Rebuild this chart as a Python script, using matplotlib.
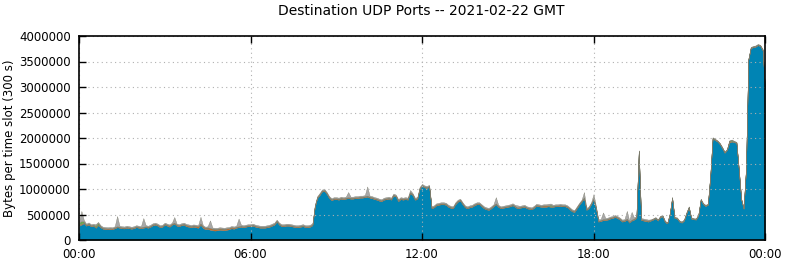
#!/usr/bin/env python3
"""Destination UDP ports, stacked bytes per 300 s slot over one day."""

import numpy as np
import matplotlib.pyplot as plt
from matplotlib.ticker import FuncFormatter

# kB per 5-minute slot, one row per hour (12 slots), plus the 24:00 closing value
blue_kb = [
    [290, 300, 330, 280, 300, 270, 280, 240, 290, 250, 220, 215],
    [210, 215, 210, 230, 250, 240, 230, 225, 240, 230, 220, 230],
    [250, 240, 230, 240, 250, 240, 260, 290, 300, 280, 250, 260],
    [300, 280, 260, 300, 320, 280, 270, 290, 300, 270, 260, 250],
    [260, 250, 240, 300, 240, 210, 220, 200, 190, 185, 190, 200],
    [195, 190, 200, 210, 230, 220, 240, 250, 260, 250, 260, 270],
    [270, 280, 260, 250, 240, 240, 240, 250, 260, 280, 300, 360],
    [300, 270, 270, 280, 280, 270, 260, 250, 250, 260, 270, 250],
    [250, 260, 290, 650, 820, 880, 950, 960, 900, 820, 780, 800],
    [800, 790, 810, 800, 810, 820, 810, 810, 820, 820, 830, 830],
    [840, 850, 830, 820, 800, 790, 770, 760, 790, 800, 810, 790],
    [870, 850, 760, 800, 790, 800, 790, 920, 880, 790, 800, 1000],
    [1060, 1030, 1020, 1040, 620, 640, 680, 690, 700, 700, 690, 650],
    [630, 620, 700, 750, 770, 700, 640, 620, 640, 650, 680, 700],
    [700, 660, 620, 600, 590, 620, 660, 700, 650, 620, 630, 640],
    [650, 660, 680, 650, 620, 630, 640, 650, 620, 610, 600, 630],
    [670, 660, 650, 650, 650, 660, 650, 650, 660, 660, 670, 660],
    [660, 640, 600, 560, 550, 620, 690, 750, 820, 590, 620, 700],
    [800, 620, 360, 370, 390, 390, 400, 420, 430, 450, 430, 400],
    [360, 370, 400, 340, 380, 400, 430, 1730, 390, 380, 370, 360],
    [380, 400, 425, 380, 450, 460, 350, 325, 500, 820, 430, 420],
    [360, 340, 380, 520, 635, 420, 405, 400, 480, 785, 700, 665],
    [690, 1240, 1990, 1960, 1930, 1880, 1800, 1710, 1760, 1910, 1930, 1920],
    [1900, 1370, 790, 610, 1370, 3530, 3760, 3780, 3790, 3820, 3800, 3720],
]
blue_end = 2950

orange_kb = [
    [15, 20, 15, 15, 20, 15, 15, 15, 15, 15, 15, 15],
    [15, 15, 15, 15, 15, 15, 15, 15, 15, 15, 15, 15],
    [15, 15, 15, 15, 15, 15, 15, 15, 15, 15, 15, 15],
    [15, 15, 20, 15, 15, 15, 15, 15, 15, 20, 20, 20],
    [20, 25, 25, 20, 25, 25, 25, 30, 30, 30, 25, 25],
    [25, 25, 25, 20, 20, 20, 15, 15, 15, 15, 15, 15],
    [15, 15, 15, 15, 15, 15, 15, 15, 15, 15, 15, 15],
    [15, 15, 15, 15, 15, 15, 15, 15, 15, 15, 15, 15],
    [15, 15, 15, 15, 15, 15, 15, 15, 15, 15, 15, 15],
    [15, 15, 15, 15, 15, 15, 15, 15, 15, 15, 15, 15],
    [15, 15, 15, 15, 15, 15, 15, 15, 15, 15, 15, 15],
    [15, 15, 15, 15, 15, 15, 15, 15, 15, 15, 15, 15],
    [15, 15, 15, 15, 15, 15, 15, 15, 15, 15, 15, 15],
    [15, 15, 15, 15, 15, 15, 15, 15, 15, 15, 15, 15],
    [15, 15, 15, 15, 15, 15, 15, 15, 15, 15, 15, 15],
    [15, 15, 15, 15, 15, 15, 15, 15, 15, 15, 15, 15],
    [15, 15, 15, 25, 25, 15, 15, 15, 15, 15, 15, 15],
    [15, 15, 15, 15, 15, 15, 15, 15, 15, 15, 15, 15],
    [15, 15, 15, 15, 15, 15, 15, 15, 15, 15, 15, 15],
    [15, 15, 15, 15, 15, 15, 15, 15, 15, 15, 15, 15],
    [10, 10, 10, 10, 10, 10, 10, 10, 10, 10, 10, 10],
    [10, 10, 10, 10, 10, 10, 10, 10, 10, 10, 10, 10],
    [10, 10, 10, 10, 10, 10, 10, 10, 10, 30, 10, 10],
    [10, 10, 10, 10, 10, 10, 10, 10, 10, 10, 10, 10],
]
orange_end = 10

green_kb = [
    [40, 50, 20, 5, 5, 5, 5, 35, 30, 5, 5, 5],
    [5, 5, 5, 5, 5, 5, 5, 5, 5, 5, 5, 5],
    [5, 5, 5, 5, 5, 5, 5, 5, 5, 5, 5, 5],
    [5, 5, 5, 5, 5, 5, 5, 5, 5, 5, 5, 5],
    [5, 5, 5, 5, 5, 5, 5, 5, 5, 5, 5, 5],
    [5, 5, 5, 5, 5, 5, 5, 5, 5, 5, 5, 5],
    [5, 5, 5, 5, 5, 5, 5, 5, 5, 5, 5, 5],
    [5, 5, 5, 5, 5, 5, 5, 5, 5, 5, 5, 5],
    [5, 5, 5, 5, 5, 5, 5, 5, 5, 5, 5, 5],
    [5, 5, 5, 5, 5, 5, 5, 5, 5, 5, 5, 5],
    [5, 5, 5, 5, 5, 5, 5, 5, 5, 5, 5, 5],
    [5, 5, 5, 5, 5, 5, 5, 5, 5, 5, 5, 5],
    [5, 5, 5, 5, 5, 5, 5, 5, 5, 5, 5, 5],
    [5, 5, 5, 5, 5, 5, 5, 5, 5, 5, 5, 5],
    [5, 5, 5, 5, 5, 5, 5, 5, 5, 5, 5, 5],
    [5, 5, 5, 5, 5, 5, 5, 5, 5, 5, 5, 5],
    [5, 5, 5, 5, 5, 5, 30, 5, 5, 5, 5, 5],
    [5, 5, 5, 5, 5, 5, 5, 5, 5, 5, 5, 5],
    [5, 5, 5, 5, 5, 5, 5, 5, 5, 5, 5, 5],
    [5, 5, 5, 5, 5, 5, 5, 5, 5, 5, 5, 5],
    [5, 5, 5, 5, 5, 5, 5, 5, 5, 5, 5, 5],
    [5, 5, 5, 5, 5, 5, 5, 5, 5, 5, 5, 5],
    [5, 5, 5, 5, 5, 5, 5, 5, 5, 5, 20, 5],
    [5, 5, 5, 5, 5, 5, 5, 5, 5, 5, 5, 5],
]
green_end = 5

gray_kb = [
    [20, 200, 30, 20, 20, 20, 20, 20, 20, 20, 20, 20],
    [20, 20, 20, 20, 200, 20, 20, 20, 20, 20, 20, 20],
    [20, 20, 20, 170, 20, 20, 20, 20, 20, 20, 20, 20],
    [20, 20, 20, 20, 110, 20, 20, 20, 20, 20, 20, 20],
    [20, 20, 20, 130, 20, 20, 20, 150, 20, 20, 20, 20],
    [20, 20, 20, 20, 20, 20, 20, 150, 20, 20, 20, 20],
    [20, 20, 20, 20, 20, 20, 20, 20, 20, 20, 20, 20],
    [20, 20, 20, 20, 20, 20, 20, 20, 20, 20, 20, 20],
    [20, 20, 20, 20, 20, 20, 20, 20, 20, 20, 20, 20],
    [20, 20, 20, 20, 20, 100, 20, 20, 20, 20, 20, 20],
    [20, 180, 20, 20, 20, 20, 20, 20, 20, 20, 20, 20],
    [20, 20, 20, 20, 20, 20, 20, 40, 20, 20, 20, 20],
    [20, 20, 20, 20, 20, 20, 20, 20, 20, 20, 20, 20],
    [20, 20, 20, 20, 20, 20, 20, 20, 20, 20, 20, 20],
    [20, 20, 20, 20, 20, 20, 20, 120, 20, 20, 20, 20],
    [20, 20, 20, 20, 40, 20, 20, 20, 20, 20, 20, 20],
    [20, 20, 20, 20, 20, 30, 20, 20, 20, 20, 20, 20],
    [20, 20, 20, 20, 20, 20, 20, 20, 100, 20, 20, 20],
    [80, 30, 30, 20, 130, 20, 20, 20, 20, 20, 20, 20],
    [20, 20, 150, 20, 150, 20, 20, 10, 20, 20, 20, 20],
    [10, 10, 10, 10, 10, 10, 10, 10, 10, 10, 10, 10],
    [10, 10, 10, 10, 10, 10, 10, 10, 10, 10, 10, 10],
    [10, 10, 10, 10, 10, 10, 10, 10, 10, 10, 10, 10],
    [10, 10, 10, 10, 10, 10, 10, 10, 10, 10, 10, 10],
]
gray_end = 10

hour_ticks = [0, 6, 12, 18, 24]
hour_labels = ["00:00", "06:00", "12:00", "18:00", "00:00"]


def series(rows, end):
    return np.append(np.ravel(rows), end) * 1000.0


def main():
    layers = [
        series(blue_kb, blue_end),
        series(orange_kb, orange_end),
        series(green_kb, green_end),
        series(gray_kb, gray_end),
    ]
    hours = np.arange(len(layers[0])) / 12.0
    colors = ["#0084b4", "#d2691e", "#6aa84f", "#a8a8a8"]

    fig = plt.figure(figsize=(7.85, 2.64), dpi=100)
    ax = fig.add_axes([79 / 785, 24 / 264, 686 / 785, 204 / 264])

    ax.stackplot(hours, *layers, colors=colors, edgecolor="#7a7a6a", linewidth=0.25)

    ax.set_xlim(0, 24)
    ax.set_ylim(0, 4000000)
    ax.set_xticks(hour_ticks)
    ax.set_xticklabels(hour_labels)
    ax.set_yticks(np.arange(0, 4000001, 500000))
    ax.yaxis.set_major_formatter(FuncFormatter(lambda v, _: f"{int(v)}"))
    ax.tick_params(direction="in", length=5, width=1, labelsize=8.5, top=True, pad=6)
    ax.grid(True, color="#b0b0b0", linestyle=(0, (1, 3)), linewidth=0.8)
    for s in ax.spines.values():
        s.set_linewidth(1.2)

    ax.set_ylabel("Bytes per time slot (300 s)", fontsize=8.5, labelpad=2)
    fig.suptitle("Destination UDP Ports -- 2021-02-22 GMT", fontsize=10, x=0.537, y=0.985)

    fig.savefig("out.png", dpi=100)
    plt.close(fig)


if __name__ == "__main__":
    main()
